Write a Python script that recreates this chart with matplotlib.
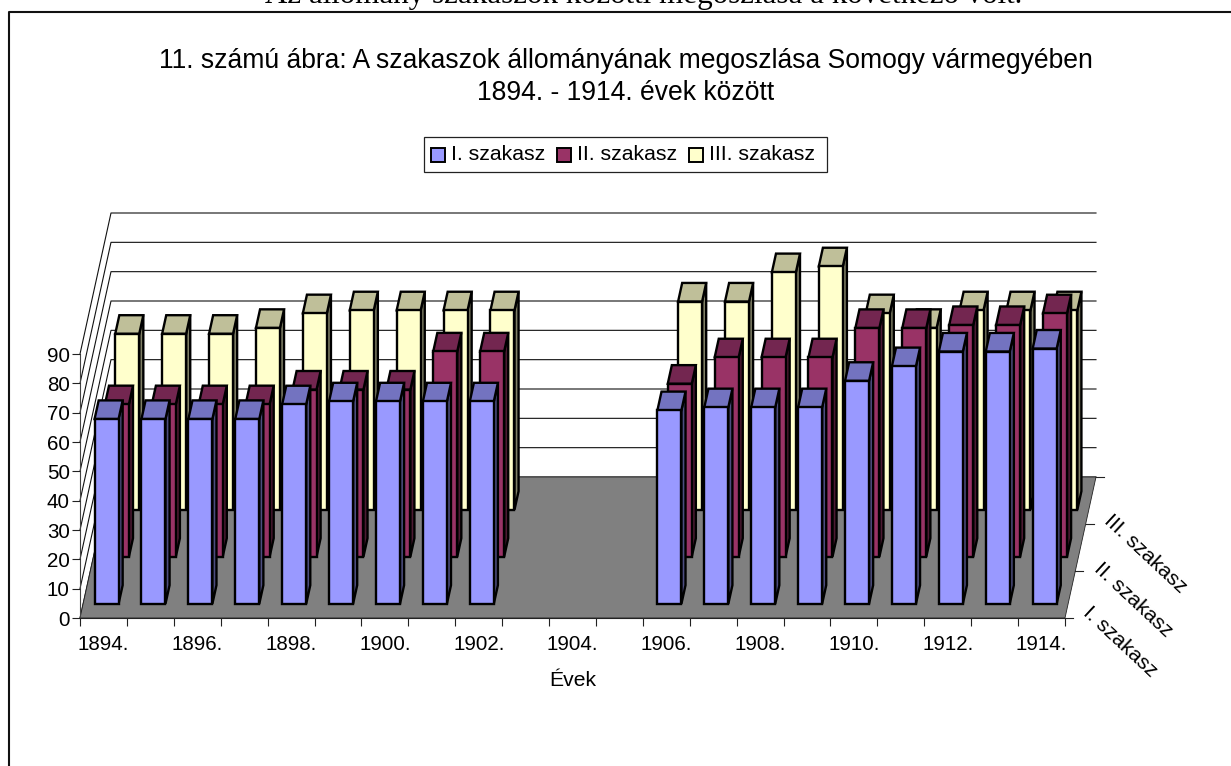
import numpy as np
import matplotlib
matplotlib.use("Agg")
import matplotlib.pyplot as plt
from matplotlib.patches import Polygon, Rectangle

plt.rcParams['font.family'] = ['Liberation Sans', 'DejaVu Sans']

years = [f"{y}." for y in range(1894, 1915)]
series_names = ["I. szakasz", "II. szakasz", "III. szakasz"]
nan = float('nan')
sz1 = [63, 63, 63, 63, 68, 69, 69, 69, 69, nan, nan, nan, 66, 67, 67, 67, 76, 81, 86, 86, 87]
sz2 = [52, 52, 52, 52, 57, 57, 57, 70, 70, nan, nan, nan, 59, 68, 68, 68, 78, 78, 79, 79, 83]
sz3 = [60, 60, 60, 62, 67, 68, 68, 68, 68, nan, nan, nan, 71, 71, 81, 83, 67, 62, 68, 68, 68]
series_values = [sz1, sz2, sz3]
front_colors = ['#9999FF', '#993366', '#FFFFCC']
top_colors = ['#7373C0', '#732650', '#BFBF99']
side_colors = ['#4D4D80', '#4D1A33', '#808066']
y_ticks = list(range(0, 100, 10))

W, H = 1231, 766
fig = plt.figure(figsize=(W / 100, H / 100), dpi=100, facecolor='white')
# plot box: front wall edge of the 3-D frame
L, R, B, T = 80, 1065, 618, 354
ax = fig.add_axes([L / W, 1 - B / H, (R - L) / W, (B - T) / H])
ax.set_xlim(0, 21)
ax.set_ylim(0, 90)
ax.patch.set_visible(False)
for s in ('top', 'right'):
    ax.spines[s].set_visible(False)
ax.spines['left'].set_color('#444444')
ax.spines['bottom'].set_color('#222222')
ax.spines['left'].set_linewidth(0.8)
ax.spines['bottom'].set_linewidth(0.8)
ax.spines['left'].set_zorder(0.7)

px_x = 21 / (R - L)
px_y = 90 / (B - T)
SLOTS = 3
dx_slot = (31 / 3) * px_x
dy_slot = (141 / 3) * px_y


def proj(x, z, y):
    return x + z * dx_slot, y + z * dy_slot


FS = 14.8
ax.set_yticks(y_ticks)
ax.set_xticks(range(22))
ax.set_xticklabels([])
ax.set_xticks(np.arange(0.5, 21, 2), labels=years[::2], minor=True)
ax.tick_params(axis='x', which='major', length=6, width=0.8, color='#222222')
ax.tick_params(axis='x', which='minor', length=0, pad=12.5, labelsize=FS)
ax.tick_params(axis='y', length=5.8, width=0.8, color='#222222', labelsize=FS, pad=1.5)
ax.set_xlabel("Évek", fontsize=15.2)
ax.xaxis.set_label_coords((573 - L) / (R - L), -(680 - B) / (B - T))
ax.xaxis.label.set_verticalalignment('center')

# back wall gridlines and left wall diagonals
for v in y_ticks:
    x0, y0 = proj(0, 0, v)
    x1, y1 = proj(0, SLOTS, v)
    x2, y2 = proj(21, SLOTS, v)
    ax.plot([x0, x1, x2], [y0, y1, y1], color='#111111', lw=0.8, clip_on=False, zorder=0.5)

# floor
ax.add_patch(Polygon([proj(0, 0, 0), proj(21, 0, 0), proj(21, SLOTS, 0), proj(0, SLOTS, 0)],
                     closed=True, facecolor='#808080', edgecolor='#222222', lw=0.6,
                     clip_on=False, zorder=0.6))

# depth axis ticks
for z in range(SLOTS + 1):
    x0, y0 = proj(21, z, 0)
    ax.plot([x0, x0 + 8 * px_x], [y0, y0], color='#222222', lw=0.8, clip_on=False, zorder=0.6)
label_pos = [(1092, 603), (1103, 559), (1113, 511)]
for name, (px, py) in zip(series_names, label_pos):
    fig.text(px / W, 1 - py / H, name, fontsize=15.2, rotation=-43,
             rotation_mode='anchor', ha='left', va='top')

# bars, back to front
bar_w = 24 / (R - L) * 21
margin = 14.2 / 47
edge = dict(edgecolor='black', lw=1.7, joinstyle='miter', clip_on=False, zorder=1)
for s in range(2, -1, -1):
    z0, z1 = s + margin, s + 1 - margin
    for i, val in enumerate(series_values[s]):
        if np.isnan(val):
            continue
        xl = i + (1 - bar_w) / 2
        xr = xl + bar_w
        ax.add_patch(Polygon([proj(xr, z0, 0), proj(xr, z1, 0), proj(xr, z1, val), proj(xr, z0, val)],
                             facecolor=side_colors[s], **edge))
        ax.add_patch(Polygon([proj(xl, z0, val), proj(xr, z0, val), proj(xr, z1, val), proj(xl, z1, val)],
                             facecolor=top_colors[s], **edge))
        ax.add_patch(Polygon([proj(xl, z0, 0), proj(xr, z0, 0), proj(xr, z0, val), proj(xl, z0, val)],
                             facecolor=front_colors[s], **edge))

# chart frame running off the image at right and bottom
fig.add_artist(plt.Line2D([8.5 / W, 8.5 / W, 1], [0, 1 - 11.5 / H, 1 - 11.5 / H],
                          color='#111111', lw=1.5, transform=fig.transFigure))

# page text cut by the top edge
fig.text(644 / W, 1 - 3 / H, "Az állomány szakaszok közötti megoszlása a következő volt.",
         family='Liberation Serif', fontsize=22.3, ha='center', va='baseline')

# title
fig.text(626 / W, 1 - 61 / H, "11. számú ábra: A szakaszok állományának megoszlása Somogy vármegyében",
         fontsize=19.1, ha='center', va='center')
fig.text(626 / W, 1 - 93 / H, "1894. - 1914. évek között", fontsize=19.1, ha='center', va='center')

# legend
fig.add_artist(Rectangle((423.5 / W, 1 - 172 / H), 403 / W, 35 / H, transform=fig.transFigure,
                         facecolor='white', edgecolor='#222222', lw=0.9))
legend_swatches = [430.5, 557, 688.5]
legend_text = [451, 577, 709]
for name, c, sx, tx in zip(series_names, front_colors, legend_swatches, legend_text):
    fig.add_artist(Rectangle((sx / W, 1 - 162 / H), 14 / W, 14 / H, transform=fig.transFigure,
                             facecolor=c, edgecolor='black', lw=1.4))
    fig.text(tx / W, 1 - 155 / H, name, fontsize=15.3, ha='left', va='center')

fig.savefig('out.png', dpi=100)
